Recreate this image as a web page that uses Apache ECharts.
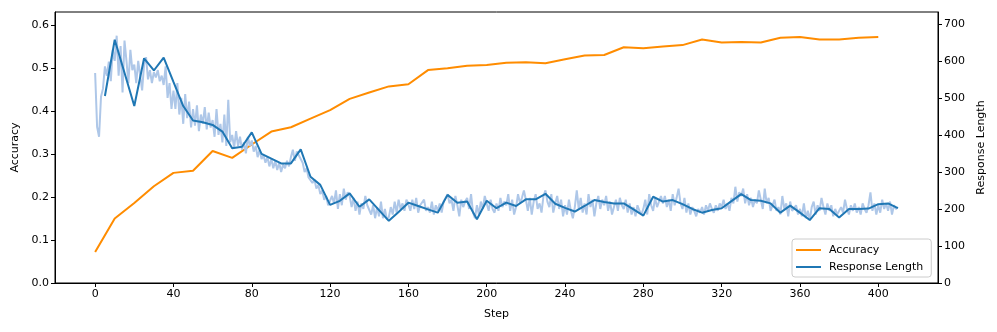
<!DOCTYPE html>
<html>
<head>
<meta charset="utf-8">
<script src="https://cdn.jsdelivr.net/npm/echarts@6/dist/echarts.min.js"></script>
<style>
  html, body { margin: 0; padding: 0; background: #fff; }
  #chart { width: 997px; height: 332px; }
</style>
</head>
<body>
<div id="chart"></div>
<script>
/* accuracy, one point every 10 steps starting at step 0 */
const accuracy = [
  0.072, 0.150, 0.186, 0.225, 0.256, 0.261, 0.307, 0.291, 0.322, 0.352,
  0.362, 0.382, 0.402, 0.428, 0.443, 0.457, 0.462, 0.495, 0.499, 0.505,
  0.507, 0.512, 0.513, 0.511, 0.520, 0.529, 0.530, 0.548, 0.546, 0.550,
  0.553, 0.566, 0.559, 0.560, 0.559, 0.570, 0.572, 0.566, 0.566, 0.570,
  0.572
];

/* response length, one point every 5 steps starting at step 5 */
const responseLength = [
  505, 657, 568, 478, 607, 574, 609, 543, 478, 439,
  434, 427, 409, 364, 368, 407, 349, 336, 323, 323,
  361, 287, 265, 211, 222, 242, 206, 226, 197, 168,
  192, 217, 208, 199, 190, 238, 217, 220, 172, 222,
  202, 217, 208, 226, 226, 241, 214, 203, 193, 208,
  224, 219, 215, 215, 199, 182, 233, 220, 224, 213,
  200, 190, 197, 202, 221, 240, 224, 222, 215, 190,
  209, 190, 170, 202, 200, 177, 200, 200, 201, 213,
  215, 202
];

/* raw response length, every step from 0 to 410 */
const rawLength = [
  567, 422, 395, 503, 525, 585, 560, 598, 545, 630,
  600, 668, 560, 640, 515, 655, 600, 540, 630, 575,
  590, 540, 600, 560, 520, 590, 610, 550, 575, 540,
  570, 555, 575, 545, 560, 535, 585, 500, 540, 470,
  520, 470, 540, 455, 500, 430, 510, 445, 490, 420,
  470, 425, 480, 410, 455, 430, 475, 415, 460, 420,
  440, 395, 470, 400, 430, 380, 455, 370, 495, 380,
  400, 365, 410, 370, 395, 360, 380, 350, 395, 370,
  385, 355, 370, 340, 360, 335, 345, 325, 340, 315,
  335, 310, 330, 305, 325, 300, 320, 310, 330, 315,
  340, 360, 330, 355, 345, 350, 325, 300, 310, 285,
  290, 270, 280, 255, 265, 240, 250, 225, 235, 210,
  205, 235, 215, 250, 200, 240, 210, 255, 225, 245,
  235, 205, 230, 195, 220, 185, 215, 200, 235, 210,
  215, 185, 210, 175, 205, 180, 220, 175, 200, 172,
  178, 205, 185, 220, 190, 225, 200, 215, 195, 225,
  212, 195, 225, 200, 230, 190, 210, 205, 225, 195,
  205, 190, 220, 185, 210, 195, 215, 190, 220, 230,
  240, 215, 225, 195, 235, 210, 180, 225, 205, 220,
  230, 200, 240, 190, 175, 210, 185, 220, 200, 235,
  215, 195, 225, 200, 190, 215, 195, 230, 205, 220,
  210, 240, 195, 225, 185, 205, 240, 215, 230, 250,
  225, 195, 230, 185, 220, 240, 200, 215, 190, 235,
  250, 220, 205, 240, 190, 215, 235, 200, 225, 180,
  210, 185, 225, 195, 175, 205, 250, 200, 230, 190,
  215, 185, 240, 205, 225, 180, 215, 235, 200, 225,
  210, 235, 195, 220, 185, 205, 225, 195, 230, 210,
  200, 225, 190, 215, 185, 205, 180, 210, 195, 185,
  200, 225, 185, 240, 210, 195, 230, 205, 220, 235,
  215, 235, 205, 225, 195, 240, 210, 230, 255, 215,
  200, 230, 190, 215, 185, 205, 195, 180, 200, 190,
  205, 185, 210, 195, 215, 200, 190, 210, 195, 215,
  205, 225, 200, 215, 195, 230, 215, 260, 220, 245,
  235, 255, 215, 240, 210, 230, 205, 225, 215, 250,
  225, 200, 255, 215, 230, 195, 210, 225, 195, 205,
  185, 235, 200, 215, 180, 220, 195, 190, 210, 185,
  200, 180, 215, 175, 195, 170, 205, 220, 185, 210,
  195, 230, 205, 185, 215, 195, 210, 180, 200, 185,
  180, 205, 190, 225, 200, 185, 210, 195, 215, 190,
  205, 185, 215, 200, 190, 210, 245, 195, 215, 185,
  210, 190, 225, 200, 215, 195, 220, 185, 210, 200,
  205
];

const stepTicks = [0, 40, 80, 120, 160, 200, 240, 280, 320, 360, 400];
const accTicks = [0, 0.1, 0.2, 0.3, 0.4, 0.5, 0.6];
const lengthTicks = [0, 100, 200, 300, 400, 500, 600, 700];

const FONT = 'DejaVu Sans';

let chart = echarts.init(document.getElementById('chart'));

let axisCommon = {
  axisLine: { show: true, onZero: false, lineStyle: { color: '#000', width: 1 } },
  splitLine: { show: false },
  nameTextStyle: { color: '#000', fontSize: 11, fontFamily: FONT }
};

chart.setOption({
  animation: false,
  backgroundColor: '#fff',
  grid: {
    left: 55, right: 59, top: 12, bottom: 49,
    show: true, borderColor: '#000', borderWidth: 1
  },
  legend: {
    orient: 'vertical',
    left: 792, top: 239,
    data: ['Accuracy', 'Response Length'],
    icon: 'rect',
    itemWidth: 25, itemHeight: 2, itemGap: 3,
    padding: [4, 8, 3, 4],
    backgroundColor: '#fff',
    borderColor: '#cccccc', borderWidth: 1, borderRadius: 3,
    textStyle: { color: '#000', fontSize: 11, fontFamily: FONT, lineHeight: 14, padding: [0, 0, 0, 3] }
  },
  xAxis: Object.assign({}, axisCommon, {
    type: 'value',
    min: -20.5, max: 430.5,
    name: 'Step', nameLocation: 'middle', nameGap: 26,
    axisTick: { length: 4, lineStyle: { color: '#000' }, customValues: stepTicks },
    axisLabel: { customValues: stepTicks, color: '#000', fontSize: 11, fontFamily: FONT, margin: 6 }
  }),
  yAxis: [
    Object.assign({}, axisCommon, {
      type: 'value', position: 'left',
      min: 0, max: 0.63,
      name: 'Accuracy', nameLocation: 'middle', nameGap: 32, nameRotate: 90,
      axisTick: { length: 4, lineStyle: { color: '#000' }, customValues: accTicks },
      axisLabel: {
        customValues: accTicks, color: '#000', fontSize: 11, fontFamily: FONT, margin: 6,
        formatter: v => v.toFixed(1)
      }
    }),
    Object.assign({}, axisCommon, {
      type: 'value', position: 'right',
      min: 0, max: 732,
      name: 'Response Length', nameLocation: 'middle', nameGap: 34, nameRotate: 90,
      axisTick: { length: 4, lineStyle: { color: '#000' }, customValues: lengthTicks },
      axisLabel: { customValues: lengthTicks, color: '#000', fontSize: 11, fontFamily: FONT, margin: 6 }
    })
  ],
  series: [
    {
      name: 'Accuracy', type: 'line', yAxisIndex: 0, z: 2,
      showSymbol: false, color: '#ff8c00',
      lineStyle: { width: 2, color: '#ff8c00' },
      data: accuracy.map((v, i) => [i * 10, v])
    },
    {
      name: 'raw', type: 'line', yAxisIndex: 1, z: 3, silent: true,
      showSymbol: false, color: '#aec7e8',
      lineStyle: { width: 2, color: '#aec7e8' },
      data: rawLength.map((v, i) => [i, v])
    },
    {
      name: 'Response Length', type: 'line', yAxisIndex: 1, z: 4,
      showSymbol: false, color: '#1f77b4',
      lineStyle: { width: 2, color: '#1f77b4' },
      data: responseLength.map((v, i) => [5 + i * 5, v])
    }
  ]
});
</script>
</body>
</html>
